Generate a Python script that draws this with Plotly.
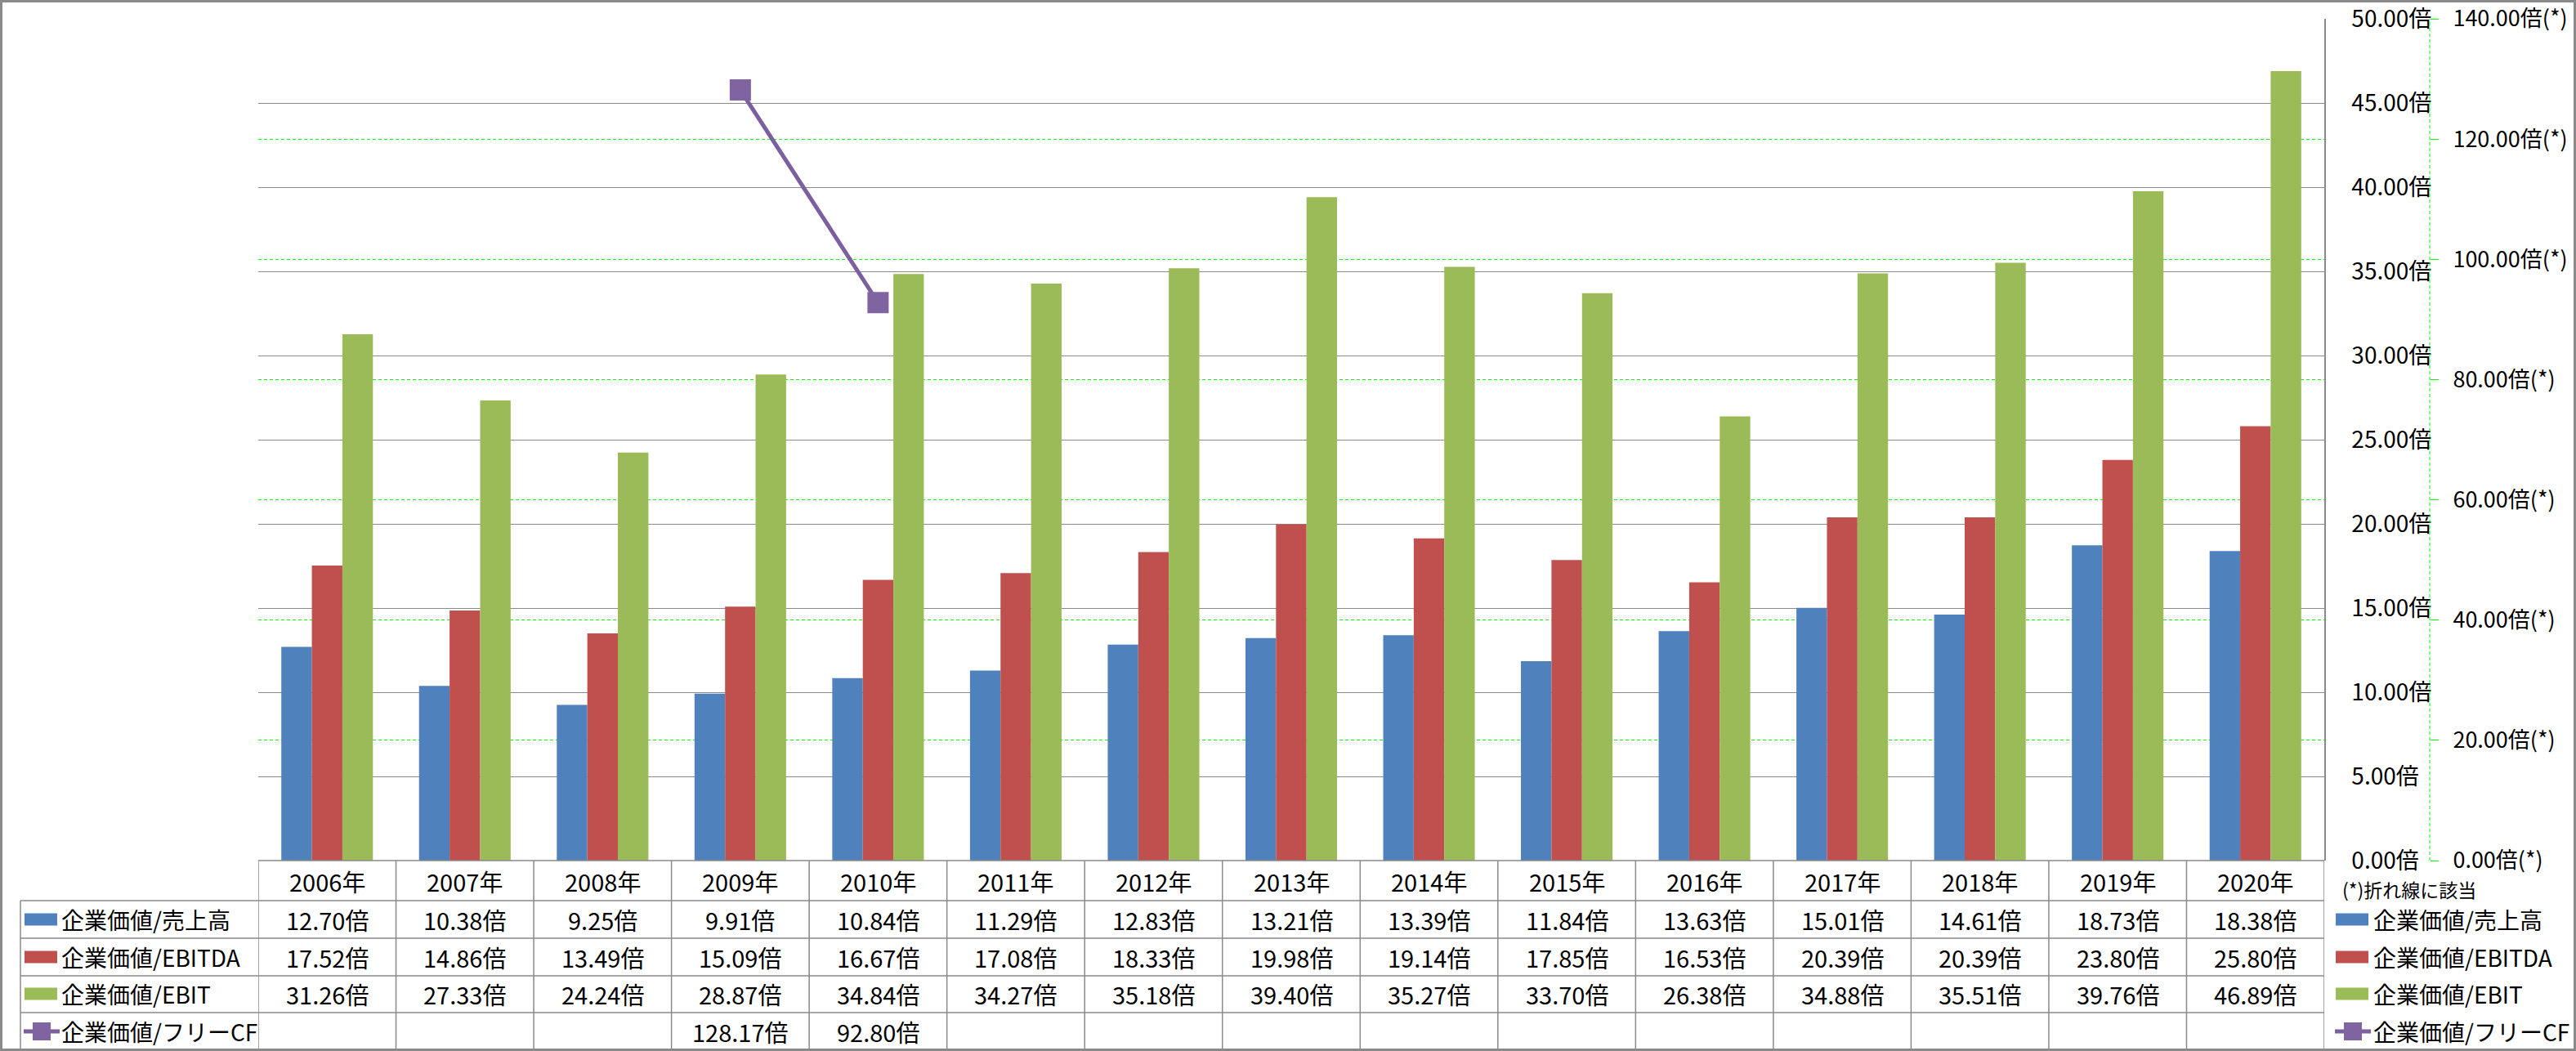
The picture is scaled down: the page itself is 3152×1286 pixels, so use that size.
import plotly.graph_objects as go

# ---------------- data ----------------
years = ["2006年", "2007年", "2008年", "2009年", "2010年", "2011年", "2012年", "2013年",
         "2014年", "2015年", "2016年", "2017年", "2018年", "2019年", "2020年"]
sales = [12.70, 10.38, 9.25, 9.91, 10.84, 11.29, 12.83, 13.21, 13.39, 11.84, 13.63, 15.01, 14.61, 18.73, 18.38]
ebitda = [17.52, 14.86, 13.49, 15.09, 16.67, 17.08, 18.33, 19.98, 19.14, 17.85, 16.53, 20.39, 20.39, 23.80, 25.80]
ebit = [31.26, 27.33, 24.24, 28.87, 34.84, 34.27, 35.18, 39.40, 35.27, 33.70, 26.38, 34.88, 35.51, 39.76, 46.89]
fcf = [None, None, None, 128.17, 92.80, None, None, None, None, None, None, None, None, None, None]

series_names = ["企業価値/売上高", "企業価値/EBITDA", "企業価値/EBIT", "企業価値/フリーCF"]
note_text = "(*)折れ線に該当"

# ---------------- styles ----------------
W, H = 3152, 1286
BLUE, RED, GREEN, PURPLE = "#4F81BD", "#C0504D", "#9BBB59", "#8064A2"
GRAY = "#8A8A8A"
LIME = "#00FF00"
FONT = "'Noto Sans CJK JP', 'Noto Sans', sans-serif"
FS = 29


def px(x):
    return x / W


def py(y):
    return (H - y) / H


PLOT_L, PLOT_R, PLOT_T, PLOT_B = 316, 2844, 23, 1053
Y2_AXIS_X = 2973
row_lines = [1053, 1102, 1148, 1194, 1239]
row_centers = [1078, 1125, 1171, 1216, 1262]
BOTTOM = 1284

fig = go.Figure()
for name, vals, col in [(series_names[0], sales, BLUE), (series_names[1], ebitda, RED), (series_names[2], ebit, GREEN)]:
    fig.add_trace(go.Bar(x=years, y=vals, name=name, marker=dict(color=col, line=dict(width=0)),
                         xaxis="x", yaxis="y"))

fig.add_trace(go.Scatter(x=years, y=fcf, name=series_names[3], mode="lines+markers",
                         line=dict(color="#7C5F9E", width=5),
                         marker=dict(symbol="square", size=26, color=PURPLE, line=dict(width=0)),
                         connectgaps=False, xaxis="x", yaxis="y2"))

shapes = []
annotations = []

# outer border
shapes.append(dict(type="rect", xref="paper", yref="paper", x0=px(1.5), x1=px(W - 1.5), y0=py(H - 1.5), y1=py(1.5),
                   line=dict(color=GRAY, width=3), fillcolor="rgba(0,0,0,0)", layer="above"))

# secondary axis line (dashed green)
shapes.append(dict(type="line", xref="paper", yref="paper", x0=px(Y2_AXIS_X), x1=px(Y2_AXIS_X),
                   y0=py(PLOT_B), y1=py(PLOT_T), line=dict(color=LIME, width=1, dash="4px,3px")))

# data table lines
n = len(years)
shapes.append(dict(type="line", xref="x", yref="paper", x0=-0.5, x1=n - 0.5, y0=py(row_lines[0]), y1=py(row_lines[0]),
                   line=dict(color=GRAY, width=1.5)))
for yl in row_lines[1:]:
    shapes.append(dict(type="line", xref="paper", yref="paper", x0=px(25), x1=px(PLOT_R), y0=py(yl), y1=py(yl),
                       line=dict(color=GRAY, width=1.5)))
for k in range(n + 1):
    shapes.append(dict(type="line", xref="x", yref="paper", x0=k - 0.5, x1=k - 0.5, y0=py(row_lines[0]), y1=py(BOTTOM),
                       line=dict(color=GRAY, width=1.5)))
shapes.append(dict(type="line", xref="paper", yref="paper", x0=px(25), x1=px(25), y0=py(row_lines[1]), y1=py(BOTTOM),
                   line=dict(color=GRAY, width=1.5)))

# year row
for i, yr in enumerate(years):
    annotations.append(dict(x=yr, xref="x", y=py(row_centers[0]), yref="paper", text=yr, showarrow=False,
                            font=dict(family=FONT, size=FS, color="black"), xanchor="center", yanchor="middle"))

# value rows
for r, vals in enumerate([sales, ebitda, ebit, fcf]):
    for i, v in enumerate(vals):
        if v is None:
            continue
        annotations.append(dict(x=years[i], xref="x", y=py(row_centers[r + 1]), yref="paper", text=f"{v:.2f}倍",
                                showarrow=False, font=dict(family=FONT, size=FS, color="black"),
                                xanchor="center", yanchor="middle"))


def legend_key(x_left, yc, kind, color):
    if kind == "bar":
        shapes.append(dict(type="rect", xref="paper", yref="paper", x0=px(x_left), x1=px(x_left + 40),
                           y0=py(yc + 7.5), y1=py(yc - 7.5), fillcolor=color, line=dict(width=0)))
    else:
        shapes.append(dict(type="line", xref="paper", yref="paper", x0=px(x_left - 1), x1=px(x_left + 43),
                           y0=py(yc), y1=py(yc), line=dict(color="#7C5F9E", width=5)))
        shapes.append(dict(type="rect", xref="paper", yref="paper", x0=px(x_left + 10), x1=px(x_left + 32),
                           y0=py(yc + 11), y1=py(yc - 11), fillcolor=color, line=dict(width=0)))


LFS = 28
key_specs = [("bar", BLUE), ("bar", RED), ("bar", GREEN), ("line", PURPLE)]
for r, (kind, col) in enumerate(key_specs):
    yc = row_centers[r + 1]
    legend_key(30, yc, kind, col)
    annotations.append(dict(x=px(73), xref="paper", y=py(yc), yref="paper", text=series_names[r], showarrow=False,
                            font=dict(family=FONT, size=LFS, color="black"), xanchor="left", yanchor="middle"))
    legend_key(2858, yc, kind, col)
    annotations.append(dict(x=px(2902), xref="paper", y=py(yc), yref="paper", text=series_names[r], showarrow=False,
                            font=dict(family=FONT, size=LFS, color="black"), xanchor="left", yanchor="middle"))

annotations.append(dict(x=px(2864), xref="paper", y=py(1088), yref="paper", text=note_text, showarrow=False,
                        font=dict(family=FONT, size=23, color="black"), xanchor="left", yanchor="middle"))

fig.update_layout(
    template="none",
    width=W, height=H,
    margin=dict(l=0, r=0, t=0, b=0, pad=0, autoexpand=False),
    paper_bgcolor="white", plot_bgcolor="white",
    showlegend=False,
    barmode="group", bargap=0.335, bargroupgap=0,
    font=dict(family=FONT, size=FS, color="black"),
    xaxis=dict(domain=[px(PLOT_L), px(PLOT_R)], type="category", range=[-0.5, n - 0.5], automargin=False,
               showticklabels=False, showgrid=False, zeroline=False, showline=False, ticks=""),
    yaxis=dict(domain=[py(PLOT_B), py(PLOT_T)], range=[0, 50], dtick=5, tick0=0, side="right", automargin=False,
               showline=True, linecolor=GRAY, linewidth=1.5, showgrid=True, gridcolor=GRAY, gridwidth=1.3,
               zeroline=False, ticks="", tickformat=".2f", ticksuffix="倍", ticklabelstandoff=26,
               ticklabeloverflow="allow",
               tickfont=dict(family=FONT, size=28, color="black")),
    yaxis2=dict(overlaying="y", anchor="free", position=px(Y2_AXIS_X), side="right", range=[0, 140], dtick=20,
                tick0=0, showgrid=True, gridcolor=LIME, griddash="4px,3px", gridwidth=1, zeroline=False,
                automargin=False, showline=False, ticks="outside", ticklen=10, tickcolor=LIME, tickwidth=1,
                tickformat=".2f", ticksuffix="倍(*)", ticklabelstandoff=12, ticklabeloverflow="allow",
                tickfont=dict(family=FONT, size=27, color="black")),
    shapes=shapes,
    annotations=annotations,
)

fig.write_html("out.html")
